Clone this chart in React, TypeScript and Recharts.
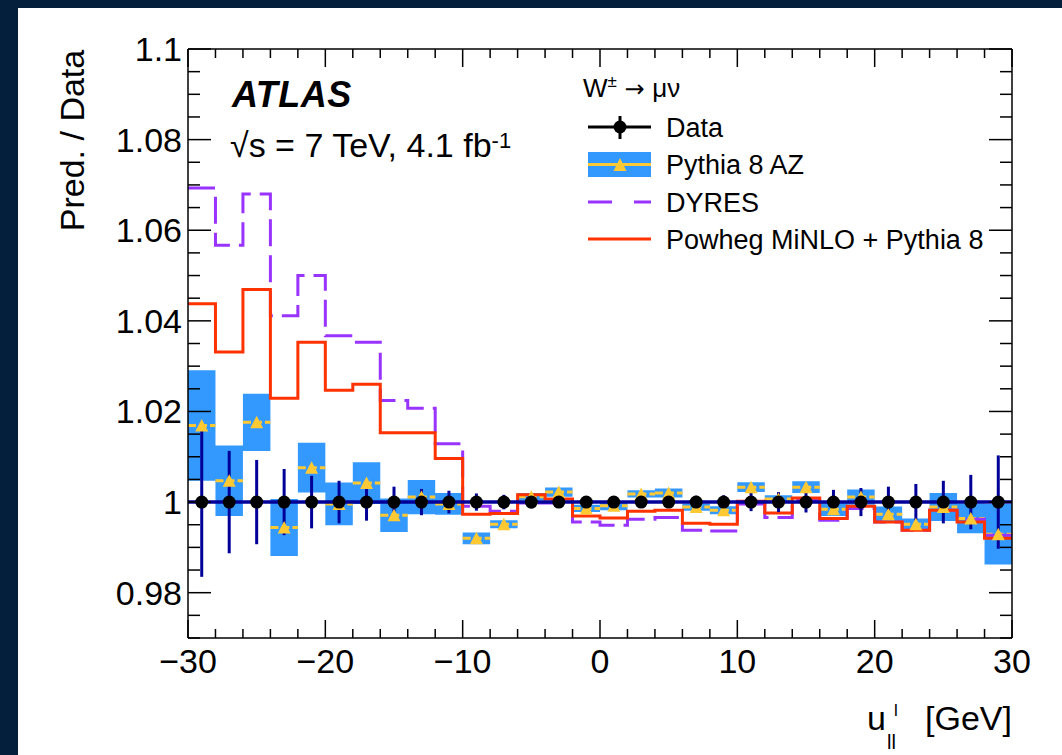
import {
  Area,
  ComposedChart,
  ErrorBar,
  Line,
  ReferenceLine,
  Scatter,
  XAxis,
  YAxis,
} from "recharts";

const FONT = '"Liberation Sans", Arial, Helvetica, sans-serif';
const FRAME_COLOR = "#031f3c";
const COLOR_BAND = "#3399ff";
const COLOR_PYTHIA = "#ffc933";
const COLOR_DYRES = "#9933ff";
const COLOR_POWHEG = "#ff3300";
const COLOR_DATA_ERR = "#000099";
const AXIS_COLOR = "#000";

// histogram binning: 2 GeV bins from -30 to 30
const BIN_EDGES = [
  -30, -28, -26, -24, -22, -20, -18, -16, -14, -12, -10, -8, -6, -4, -2, 0, 2,
  4, 6, 8, 10, 12, 14, 16, 18, 20, 22, 24, 26, 28, 30,
];
const BIN_CENTERS = [
  -29, -27, -25, -23, -21, -19, -17, -15, -13, -11, -9, -7, -5, -3, -1, 1, 3, 5,
  7, 9, 11, 13, 15, 17, 19, 21, 23, 25, 27, 29,
];
const BIN_HALF_WIDTH = 1;

const DATA_RATIO = [
  1, 1, 1, 1, 1, 1, 1, 1, 1, 1, 1, 1, 1, 1, 1, 1, 1, 1, 1, 1, 1, 1, 1, 1, 1, 1,
  1, 1, 1, 1,
];
const DATA_ERR = [
  0.0165, 0.0113, 0.0093, 0.0073, 0.0058, 0.0047, 0.0041, 0.0034, 0.0029,
  0.0025, 0.0019, 0.0016, 0.0014, 0.0013, 0.0012, 0.0012, 0.0012, 0.0013,
  0.0014, 0.0015, 0.002, 0.0022, 0.0023, 0.0027, 0.0031, 0.0034, 0.004, 0.0047,
  0.006, 0.0103,
];

const PYTHIA_AZ = [
  1.0169, 1.0047, 1.0176, 0.9944, 1.0076, 0.9996, 1.0042, 0.9971, 1.0011,
  0.9996, 0.992, 0.9951, 1.0012, 1.0022, 0.9986, 0.9992, 1.0018, 1.002, 0.9989,
  0.9982, 1.0033, 1.0007, 1.0033, 0.9984, 1.0011, 0.9973, 0.9951, 0.9989,
  0.9964, 0.9929,
];
const PYTHIA_AZ_ERR = [
  0.0122, 0.0078, 0.0063, 0.0063, 0.0055, 0.0047, 0.0046, 0.0037, 0.0038,
  0.0024, 0.0013, 0.0009, 0.0008, 0.001, 0.0008, 0.001, 0.0008, 0.001, 0.0008,
  0.0009, 0.0011, 0.0008, 0.0013, 0.0015, 0.0017, 0.0017, 0.0013, 0.0031,
  0.0033, 0.0067,
];

const DYRES = [
  1.0693, 1.0567, 1.068, 1.0411, 1.05, 1.0367, 1.0353, 1.0224, 1.0207, 1.0129,
  0.9991, 0.998, 0.9998, 0.9998, 0.9956, 0.9949, 0.9962, 0.9966, 0.9938,
  0.9936, 0.9996, 0.9966, 1.0004, 0.996, 0.9986, 0.9956, 0.9938, 0.9982,
  0.9962, 0.9927,
];
const POWHEG = [
  1.0438, 1.0331, 1.0469, 1.0229, 1.0353, 1.0247, 1.026, 1.0153, 1.0153,
  1.0096, 0.9973, 0.9975, 1.0016, 1.0007, 0.9969, 0.9965, 0.998, 0.9982,
  0.9953, 0.9951, 1.0002, 0.9976, 1.0009, 0.9964, 0.9991, 0.9956, 0.9938,
  0.9982, 0.9956, 0.992,
];

const X_TICKS = BIN_EDGES;
const X_MAJOR = [-30, -20, -10, 0, 10, 20, 30];
const X_LABELS = ["\u221230", "\u221220", "\u221210", "0", "10", "20", "30"];
const Y_TICKS = [
  0.97, 0.975, 0.98, 0.985, 0.99, 0.995, 1, 1.005, 1.01, 1.015, 1.02, 1.025,
  1.03, 1.035, 1.04, 1.045, 1.05, 1.055, 1.06, 1.065, 1.07, 1.075, 1.08, 1.085,
  1.09, 1.095, 1.1,
];
const Y_MAJOR = [0.98, 1, 1.02, 1.04, 1.06, 1.08, 1.1];
const Y_LABELS = ["0.98", "1", "1.02", "1.04", "1.06", "1.08", "1.1"];

const stepRows = BIN_EDGES.map((edge, i) => {
  const k = Math.min(i, BIN_CENTERS.length - 1);
  return {
    x: edge,
    dyres: DYRES[k],
    powheg: POWHEG[k],
    band: [PYTHIA_AZ[k] - PYTHIA_AZ_ERR[k], PYTHIA_AZ[k] + PYTHIA_AZ_ERR[k]],
  };
});

const pointRows = BIN_CENTERS.map((c, i) => ({
  x: c,
  data: DATA_RATIO[i],
  dataErr: DATA_ERR[i],
  pythia: PYTHIA_AZ[i],
  halfBin: BIN_HALF_WIDTH,
}));

function majorIndex(list: number[], v: number) {
  return list.findIndex((m) => Math.abs(m - v) < 1e-6);
}

type TickProps = { x: number; y: number; payload: { value: number } };

function BottomTick({ x, y, payload }: TickProps) {
  const idx = majorIndex(X_MAJOR, payload.value);
  const major = idx >= 0;
  return (
    <g>
      <line x1={x} x2={x} y1={y} y2={y - (major ? 18 : 9)} stroke={AXIS_COLOR} strokeWidth={1.5} />
      {major && (
        <text x={x} y={y + 35} textAnchor="middle" fontSize={34} fontFamily={FONT} fill="#000">
          {X_LABELS[idx]}
        </text>
      )}
    </g>
  );
}

function TopTick({ x, y, payload }: TickProps) {
  const major = majorIndex(X_MAJOR, payload.value) >= 0;
  return <line x1={x} x2={x} y1={y} y2={y + (major ? 18 : 9)} stroke={AXIS_COLOR} strokeWidth={1.5} />;
}

function LeftTick({ x, y, payload }: TickProps) {
  const idx = majorIndex(Y_MAJOR, payload.value);
  const major = idx >= 0;
  return (
    <g>
      <line x1={x} x2={x + (major ? 23 : 12)} y1={y} y2={y} stroke={AXIS_COLOR} strokeWidth={1.5} />
      {major && (
        <text x={x - 6} y={y + 12} textAnchor="end" fontSize={34} fontFamily={FONT} fill="#000">
          {Y_LABELS[idx]}
        </text>
      )}
    </g>
  );
}

function RightTick({ x, y, payload }: TickProps) {
  const major = majorIndex(Y_MAJOR, payload.value) >= 0;
  return <line x1={x} x2={x - (major ? 23 : 12)} y1={y} y2={y} stroke={AXIS_COLOR} strokeWidth={1.5} />;
}

function TriangleMarker({ cx, cy }: { cx: number; cy: number }) {
  return (
    <polygon
      points={`${cx - 6.5},${cy + 6} ${cx + 6.5},${cy + 6} ${cx},${cy - 6.5}`}
      fill={COLOR_PYTHIA}
    />
  );
}

function DataMarker({ cx, cy }: { cx: number; cy: number }) {
  return <circle cx={cx} cy={cy} r={6.5} fill="#000" />;
}

function NoMarker() {
  return <g />;
}

function Annotations() {
  return (
    <svg
      width={1062}
      height={755}
      style={{ position: "absolute", left: 0, top: 0, pointerEvents: "none" }}
      fontFamily={FONT}
    >
      <text x={232} y={107} fontSize={36} fontWeight="bold" fontStyle="italic" letterSpacing={0.5} fill="#000">
        ATLAS
      </text>
      <text x={230} y={157} fontSize={34} fill="#000">
        {"\u221As = 7 TeV, 4.1 fb"}
        <tspan fontSize={22} dy={-9}>
          -1
        </tspan>
      </text>

      <text
        transform="translate(84,140.5) rotate(-90)"
        textAnchor="middle"
        fontSize={34}
        fill="#000"
      >
        Pred. / Data
      </text>

      <text x={867} y={730} fontSize={34} fill="#000">
        u
      </text>
      <text x={887} y={749} fontSize={20} fill="#000">
        ll
      </text>
      <text x={894} y={716} fontSize={17} fill="#000">
        l
      </text>
      <text x={1012} y={730} fontSize={34} textAnchor="end" fill="#000">
        [GeV]
      </text>

      {/* legend */}
      <text x={583} y={97} fontSize={26} fill="#000">
        W
        <tspan fontSize={17} dy={-10}>
          ±
        </tspan>
        <tspan dy={10} fontFamily='"DejaVu Sans", sans-serif' fontSize={24}>
          {" \u2192 "}
        </tspan>
        <tspan>{"\u03BC\u03BD"}</tspan>
      </text>

      <line x1={588} x2={651} y1={127} y2={127} stroke="#000" strokeWidth={3} />
      <line x1={620} x2={620} y1={116} y2={139} stroke="#000" strokeWidth={3} />
      <circle cx={620} cy={127} r={6.5} fill="#000" />
      <text x={666} y={137} fontSize={27} fill="#000">
        Data
      </text>

      <rect x={588} y={152} width={63} height={25} fill={COLOR_BAND} />
      <line x1={588} x2={651} y1={164.5} y2={164.5} stroke={COLOR_PYTHIA} strokeWidth={3} />
      <polygon points="613.5,171 626.5,171 620,158" fill={COLOR_PYTHIA} />
      <text x={666} y={174} fontSize={27} fill="#000">
        Pythia 8 AZ
      </text>

      <line x1={588} x2={651} y1={202} y2={202} stroke={COLOR_DYRES} strokeWidth={3} strokeDasharray="24 22" />
      <text x={666} y={212} fontSize={27} fill="#000">
        DYRES
      </text>

      <line x1={588} x2={651} y1={239} y2={239} stroke={COLOR_POWHEG} strokeWidth={3} />
      <text x={666} y={249} fontSize={27} fill="#000">
        Powheg MiNLO + Pythia 8
      </text>
    </svg>
  );
}

export default function App() {
  return (
    <div style={{ position: "relative", width: 1062, height: 755, background: FRAME_COLOR, overflow: "hidden" }}>
      <style>{"body{margin:0}"}</style>
      <div style={{ position: "absolute", left: 18, top: 8, right: 0, bottom: 0, background: "#fff" }} />
      <div style={{ position: "absolute", left: 0, top: 0 }}>
        <ComposedChart
          width={1062}
          height={755}
          data={stepRows}
          margin={{ top: 48, right: 49, bottom: 116, left: 187 }}
        >
          <XAxis
            dataKey="x"
            type="number"
            domain={[-30, 30]}
            ticks={X_TICKS}
            interval={0}
            height={1}
            tickSize={0}
            tickMargin={0}
            tickLine={false}
            tick={BottomTick}
            axisLine={{ stroke: AXIS_COLOR, strokeWidth: 1.5 }}
            allowDataOverflow
          />
          <XAxis
            xAxisId="top"
            orientation="top"
            dataKey="x"
            type="number"
            domain={[-30, 30]}
            ticks={X_TICKS}
            interval={0}
            height={1}
            tickSize={0}
            tickMargin={0}
            tickLine={false}
            tick={TopTick}
            axisLine={{ stroke: AXIS_COLOR, strokeWidth: 1.5 }}
            allowDataOverflow
          />
          <YAxis
            type="number"
            domain={[0.97, 1.1]}
            ticks={Y_TICKS}
            interval={0}
            width={1}
            tickSize={0}
            tickMargin={0}
            tickLine={false}
            tick={LeftTick}
            axisLine={{ stroke: AXIS_COLOR, strokeWidth: 1.5 }}
            allowDataOverflow
          />
          <YAxis
            yAxisId="right"
            orientation="right"
            type="number"
            domain={[0.97, 1.1]}
            ticks={Y_TICKS}
            interval={0}
            width={1}
            tickSize={0}
            tickMargin={0}
            tickLine={false}
            tick={RightTick}
            axisLine={{ stroke: AXIS_COLOR, strokeWidth: 1.5 }}
            allowDataOverflow
          />

          <Area
            dataKey="band"
            type="stepAfter"
            fill={COLOR_BAND}
            fillOpacity={1}
            stroke="none"
            isAnimationActive={false}
          />
          <Scatter
            data={pointRows}
            dataKey="pythia"
            shape={TriangleMarker}
            isAnimationActive={false}
          >
            <ErrorBar
              dataKey="halfBin"
              direction="x"
              width={0}
              stroke={COLOR_PYTHIA}
              strokeWidth={3}
              strokeDasharray="8 3"
              isAnimationActive={false}
            />
          </Scatter>
          <Line
            dataKey="dyres"
            type="stepAfter"
            stroke={COLOR_DYRES}
            strokeWidth={3}
            strokeDasharray="27 9"
            dot={false}
            isAnimationActive={false}
          />
          <Line
            dataKey="powheg"
            type="stepAfter"
            stroke={COLOR_POWHEG}
            strokeWidth={3}
            dot={false}
            isAnimationActive={false}
          />
          <ReferenceLine y={1} stroke={COLOR_DATA_ERR} strokeWidth={3.5} />
          <Scatter
            data={pointRows}
            dataKey="data"
            shape={NoMarker}
            isAnimationActive={false}
          >
            <ErrorBar
              dataKey="dataErr"
              direction="y"
              width={0}
              stroke={COLOR_DATA_ERR}
              strokeWidth={3}
              isAnimationActive={false}
            />
          </Scatter>
          <Scatter
            data={pointRows}
            dataKey="data"
            shape={DataMarker}
            isAnimationActive={false}
          />
        </ComposedChart>
      </div>
      <Annotations />
    </div>
  );
}
